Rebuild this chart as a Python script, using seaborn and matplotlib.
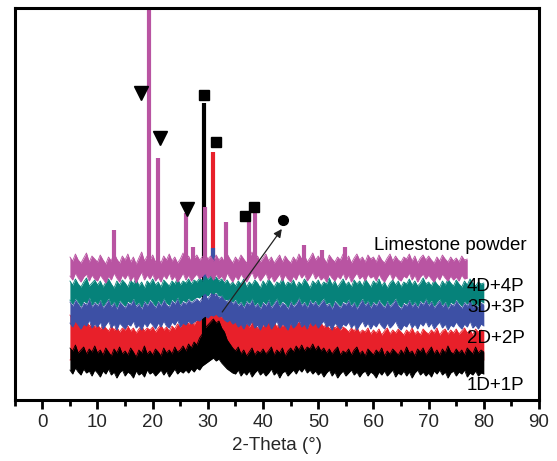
import numpy as np
import matplotlib
matplotlib.use("Agg")
import matplotlib.pyplot as plt
import seaborn as sns
import pandas as pd

# ---------------- data ----------------
# band edges sampled every 0.5 degree, starting at 5 degrees
x_start = 5.0
x_step = 0.5

black_top = [52, 49, 55, 47, 50, 53, 46, 51, 48, 54,
             47, 50, 45, 52, 48, 44, 51, 47, 53, 46,
             49, 45, 52, 48, 43, 50, 47, 54, 46, 49,
             45, 51, 48, 44, 52, 47, 50, 46, 53, 48,
             50, 54, 49, 56, 52, 58, 55, 62, 66, 72,
             75, 78, 81, 77, 79, 72, 68, 60, 56, 52,
             49, 53, 46, 50, 44, 48, 52, 45, 49, 47,
             51, 46, 49, 53, 45, 50, 47, 52, 44, 49,
             52, 48, 54, 50, 55, 49, 53, 51, 56, 50,
             54, 49, 52, 47, 51, 46, 50, 53, 45, 49,
             47, 51, 45, 50, 53, 46, 49, 44, 51, 48,
             45, 50, 47, 52, 44, 49, 46, 51, 48, 45,
             50, 46, 53, 47, 49, 44, 51, 48, 52, 45,
             49, 53, 46, 50, 45, 51, 47, 54, 48, 46,
             51, 47, 50, 45, 52, 49, 46, 53, 47, 50,
             48]
black_bot = [30, 26, 32, 28, 25, 31, 27, 29, 24, 30,
             27, 23, 29, 26, 31, 25, 28, 22, 27, 30,
             24, 28, 26, 22, 29, 25, 27, 23, 30, 26,
             28, 24, 27, 30, 25, 29, 23, 27, 31, 26,
             29, 27, 30, 27, 31, 28, 32, 30, 34, 36,
             38, 40, 42, 39, 41, 37, 34, 31, 29, 27,
             26, 30, 24, 28, 25, 29, 23, 27, 30, 25,
             28, 24, 27, 31, 25, 28, 22, 27, 29, 24,
             27, 30, 26, 31, 28, 32, 27, 30, 26, 29,
             25, 28, 23, 27, 30, 24, 28, 22, 26, 29,
             24, 27, 30, 25, 28, 23, 27, 29, 24, 28,
             26, 22, 28, 25, 29, 24, 27, 30, 23, 27,
             25, 29, 24, 28, 22, 27, 30, 25, 28, 24,
             27, 23, 29, 26, 30, 25, 28, 22, 27, 29,
             24, 28, 26, 30, 23, 27, 25, 29, 24, 27,
             26]

red_top = [85, 81, 83, 78, 80, 76, 79, 74, 77, 73,
           76, 71, 75, 72, 69, 74, 70, 73, 68, 72,
           70, 74, 69, 72, 67, 71, 74, 69, 72, 70,
           73, 68, 72, 75, 70, 73, 69, 74, 71, 76,
           73, 78, 80, 76, 79, 75, 81, 84, 80, 86,
           84, 88, 86, 89, 85, 83, 86, 80, 82, 78,
           80, 76, 79, 74, 77, 73, 78, 75, 72, 76,
           74, 79, 82, 76, 78, 73, 77, 74, 76, 72,
           77, 73, 76, 79, 74, 77, 72, 78, 75, 79,
           74, 77, 73, 76, 71, 75, 72, 74, 70, 73,
           71, 68, 72, 69, 73, 67, 70, 68, 72, 66,
           70, 67, 71, 65, 69, 72, 66, 70, 67, 71,
           68, 65, 70, 67, 72, 66, 69, 65, 71, 68,
           66, 70, 67, 72, 65, 69, 71, 66, 70, 67,
           71, 66, 69, 72, 67, 70, 65, 71, 68, 70,
           69]
red_bot = [40, 41, 40, 42, 40, 41, 40, 42, 40, 41,
           40, 41, 40, 42, 40, 41, 40, 42, 40, 41,
           40, 41, 40, 42, 40, 41, 40, 42, 40, 41,
           40, 41, 40, 42, 40, 41, 40, 42, 40, 41,
           42, 43, 44, 45, 46, 48, 50, 52, 55, 58,
           60, 62, 63, 62, 60, 57, 54, 50, 46, 42,
           40, 41, 40, 42, 40, 41, 40, 42, 40, 41,
           40, 41, 40, 42, 40, 41, 40, 42, 40, 41,
           40, 41, 40, 42, 40, 41, 40, 42, 40, 41,
           40, 41, 40, 42, 40, 41, 40, 42, 40, 41,
           40, 41, 40, 42, 40, 41, 40, 42, 40, 41,
           40, 41, 40, 42, 40, 41, 40, 42, 40, 41,
           40, 41, 40, 42, 40, 41, 40, 42, 40, 41,
           40, 41, 40, 42, 40, 41, 40, 42, 40, 41,
           40, 41, 40, 42, 40, 41, 40, 42, 40, 41,
           40]

blue_top = [98, 94, 100, 96, 92, 97, 95, 101, 93, 97,
            94, 99, 92, 96, 100, 93, 97, 91, 98, 95,
            92, 97, 95, 100, 93, 96, 91, 98, 94, 99,
            96, 92, 98, 94, 100, 95, 93, 99, 96, 101,
            94, 98, 96, 100, 97, 99, 101, 98, 102, 104,
            101, 105, 103, 106, 102, 104, 100, 98, 101, 96,
            99, 94, 97, 92, 98, 95, 100, 93, 96, 91,
            97, 94, 99, 92, 96, 100, 93, 97, 95, 91,
            98, 93, 96, 101, 94, 97, 92, 99, 95, 98,
            93, 97, 100, 94, 96, 91, 98, 95, 92, 97,
            95, 99, 93, 97, 91, 96, 100, 94, 98, 92,
            97, 94, 99, 95, 92, 98, 93, 96, 100, 94,
            91, 96, 94, 99, 93, 97, 92, 98, 95, 100,
            94, 98, 92, 96, 99, 93, 97, 91, 96, 94,
            99, 95, 92, 97, 94, 100, 93, 96, 92, 97,
            95]
blue_bot = [77, 73, 79, 75, 71, 76, 74, 80, 72, 76,
            73, 78, 71, 75, 79, 72, 76, 70, 77, 74,
            71, 76, 74, 79, 72, 75, 70, 77, 73, 78,
            75, 71, 77, 73, 79, 74, 72, 78, 75, 80,
            73, 77, 75, 79, 76, 78, 80, 79, 82, 84,
            82, 85, 84, 86, 83, 84, 80, 78, 80, 76,
            78, 73, 76, 71, 77, 74, 79, 72, 75, 70,
            76, 73, 78, 71, 75, 79, 72, 76, 74, 70,
            77, 72, 75, 80, 73, 76, 71, 78, 74, 77,
            72, 76, 79, 73, 75, 70, 77, 74, 71, 76,
            74, 78, 72, 76, 70, 75, 79, 73, 77, 71,
            76, 73, 78, 74, 71, 77, 72, 75, 79, 73,
            70, 75, 73, 78, 72, 76, 71, 77, 74, 79,
            73, 77, 71, 75, 78, 72, 76, 70, 75, 73,
            78, 74, 71, 76, 73, 79, 72, 75, 71, 76,
            74]

teal_top = [119, 115, 121, 116, 113, 118, 122, 114, 117, 120,
            115, 119, 113, 118, 121, 116, 112, 119, 115, 120,
            117, 113, 120, 116, 122, 114, 118, 112, 119, 116,
            121, 115, 118, 113, 120, 117, 114, 119, 116, 122,
            115, 119, 117, 121, 116, 120, 118, 122, 119, 123,
            121, 124, 120, 123, 119, 121, 117, 120, 115, 118,
            114, 119, 116, 121, 113, 118, 115, 120, 117, 112,
            119, 115, 121, 117, 113, 118, 116, 122, 114, 118,
            116, 120, 113, 118, 115, 121, 117, 112, 119, 116,
            120, 114, 118, 116, 122, 115, 119, 113, 117, 121,
            115, 118, 113, 120, 116, 119, 114, 121, 117, 113,
            119, 116, 121, 114, 118, 112, 117, 120, 115, 119,
            113, 118, 116, 121, 115, 119, 114, 117, 122, 116,
            118, 114, 120, 116, 113, 119, 115, 121, 117, 114,
            120, 116, 113, 119, 115, 121, 117, 114, 118, 116,
            117]
teal_bot = [100, 96, 102, 98, 94, 99, 97, 103, 95, 99,
            96, 101, 94, 98, 102, 95, 99, 93, 100, 97,
            94, 99, 97, 102, 95, 98, 93, 100, 96, 101,
            98, 94, 100, 96, 102, 97, 95, 101, 98, 103,
            96, 100, 98, 102, 99, 101, 103, 102, 105, 107,
            104, 108, 106, 108, 104, 105, 101, 100, 102, 98,
            101, 96, 99, 94, 100, 97, 102, 95, 98, 93,
            99, 96, 101, 94, 98, 102, 95, 99, 97, 93,
            100, 95, 98, 103, 96, 99, 94, 101, 97, 100,
            95, 99, 102, 96, 98, 93, 100, 97, 94, 99,
            97, 101, 95, 99, 93, 98, 102, 96, 100, 94,
            99, 96, 101, 97, 94, 100, 95, 98, 102, 96,
            93, 98, 96, 101, 95, 99, 94, 100, 97, 102,
            96, 100, 94, 98, 101, 95, 99, 93, 98, 96,
            101, 97, 94, 99, 96, 102, 95, 98, 94, 99,
            97]

mag_top = [143, 139, 146, 140, 137, 142, 147, 138, 144, 141,
           138, 145, 140, 136, 143, 139, 147, 141, 137, 144,
           140, 146, 138, 143, 136, 142, 148, 139, 144, 140,
           145, 138, 142, 137, 144, 140, 146, 139, 143, 137,
           141, 147, 139, 144, 138, 142, 145, 140, 143, 146,
           141, 144, 139, 145, 140, 143, 138, 146, 141, 137,
           143, 139, 145, 141, 137, 142, 148, 140, 144, 138,
           142, 146, 139, 143, 137, 141, 145, 138, 144, 140,
           137, 143, 139, 146, 141, 145, 138, 142, 147, 140,
           144, 139, 142, 137, 145, 141, 138, 143, 140, 146,
           139, 144, 137, 142, 146, 140, 143, 138, 145, 141,
           143, 138, 145, 140, 137, 142, 146, 139, 144, 140,
           138, 143, 141, 146, 139, 144, 137, 142, 145, 140,
           144, 140, 137, 143, 139, 145, 141, 138, 143, 139,
           142, 138, 144, 140, 141]
mag_bot = [124, 120, 127, 122, 118, 123, 126, 119, 125, 121,
           119, 125, 121, 117, 124, 120, 127, 122, 118, 125,
           121, 126, 119, 124, 117, 123, 128, 120, 125, 121,
           126, 119, 123, 118, 125, 121, 127, 120, 124, 118,
           122, 127, 120, 125, 119, 123, 126, 121, 124, 127,
           122, 125, 120, 126, 121, 124, 119, 127, 122, 118,
           124, 120, 126, 122, 118, 123, 128, 121, 125, 119,
           123, 127, 120, 124, 118, 122, 126, 119, 125, 121,
           118, 124, 120, 127, 122, 126, 119, 123, 128, 121,
           125, 120, 123, 118, 126, 122, 119, 124, 121, 127,
           120, 125, 118, 123, 127, 121, 124, 119, 126, 122,
           124, 119, 126, 121, 118, 123, 127, 120, 125, 121,
           119, 124, 122, 127, 120, 125, 118, 123, 126, 121,
           125, 121, 118, 124, 120, 126, 122, 119, 124, 120,
           123, 119, 125, 121, 122]

# sharp diffraction peaks: position (2-theta) and top intensity
mag_peak_x = [13.0, 19.4, 21.0, 26.0, 27.3, 29.4, 33.2, 37.4, 38.5, 47.4, 50.7, 54.8]
mag_peak_y = [170, 400, 242, 187, 153, 193, 178, 178, 190, 155, 150, 153]
black_peak_x = [29.35]
black_peak_y = [297]
red_peak_x = [31.0]
red_peak_y = [248]
blue_peak_x = [29.4, 31.0]
blue_peak_y = [132, 152]

# phase markers
tri_x = [17.9, 21.3, 26.3]
tri_y = [307, 262, 191]
sq_x = [29.3, 31.4, 36.8, 38.4]
sq_y = [305, 258, 184, 193]
dot_x = [43.7]
dot_y = [180]

series_names = ["2D+2P", "1D+1P", "3D+3P", "4D+4P", "Limestone powder"]
label_y = [57, 10, 88, 109, 150]
xticks = [0, 10, 20, 30, 40, 50, 60, 70, 80, 90]
minor_xticks = [-5, 5, 15, 25, 35, 45, 55, 65, 75, 85]

# ---------------- drawing ----------------
sns.set_style("white")
plt.rcParams["font.family"] = ["Liberation Sans", "DejaVu Sans"]

fig = plt.figure(figsize=(5.57, 4.61), dpi=100)
ax = fig.add_axes([14.7 / 557, 61.5 / 461, 524.3 / 557, 391.5 / 461])

colors = {"2D+2P": "#E8202A", "1D+1P": "#000000", "3D+3P": "#3D50A5",
          "4D+4P": "#06827A", "Limestone powder": "#B954A2"}

bands = {"2D+2P": (red_bot, red_top, red_peak_x, red_peak_y),
         "1D+1P": (black_bot, black_top, black_peak_x, black_peak_y),
         "3D+3P": (blue_bot, blue_top, blue_peak_x, blue_peak_y),
         "4D+4P": (teal_bot, teal_top, [], []),
         "Limestone powder": (mag_bot, mag_top, mag_peak_x, mag_peak_y)}

for name in series_names:
    bot, top, px, py = bands[name]
    assert len(bot) == len(top)
    xs = x_start + x_step * np.arange(len(top))
    c = colors[name]
    mid = (np.mean(bot) + np.mean(top)) / 2
    if px:
        ax.vlines(px, mid, py, color=c, lw=3.0, zorder=2)
    ax.fill_between(xs, bot, top, color=c, lw=0, zorder=2)
    df = pd.DataFrame({"x": np.concatenate([xs, xs]),
                       "y": np.concatenate([top, bot]),
                       "edge": ["top"] * len(xs) + ["bot"] * len(xs)})
    sns.lineplot(data=df, x="x", y="y", units="edge", estimator=None,
                 color=c, lw=0.6, ax=ax, legend=False, zorder=2)

ax.plot(tri_x, tri_y, "v", color="black", ms=10, mec="black", zorder=5)
ax.plot(sq_x, sq_y, "s", color="black", ms=6.5, mec="black", zorder=5)
ax.plot(dot_x, dot_y, "o", color="black", ms=7, mec="black", zorder=5)
ax.annotate("", xy=(43.4, 171), xytext=(32.6, 88),
            arrowprops=dict(arrowstyle="-|>", lw=0.9, color="#222222",
                            mutation_scale=12, shrinkA=0, shrinkB=0), zorder=6)

label_x = {"Limestone powder": 87.8}
for name, ly in zip(series_names, label_y):
    ax.text(label_x.get(name, 87.4), ly, name, ha="right", va="baseline",
            fontsize=13.5, color="black", zorder=7)

ax.set_xlim(-5, 90)
ax.set_ylim(0.5, 392)
ax.set_xticks(xticks)
ax.set_xticks(minor_xticks, minor=True)
ax.set_yticks([])
ax.set_xlabel("2-Theta (°)", fontsize=13.5, labelpad=4)
ax.set_ylabel("")
ax.tick_params(axis="x", which="major", direction="out", length=6.5, width=2,
               labelsize=13.5, pad=4, bottom=True, color="black")
ax.tick_params(axis="x", which="minor", direction="out", length=4, width=2,
               bottom=True, color="black")
for s in ax.spines.values():
    s.set_visible(True)
    s.set_linewidth(2.2)
    s.set_color("black")

fig.savefig("out.png", dpi=100)
